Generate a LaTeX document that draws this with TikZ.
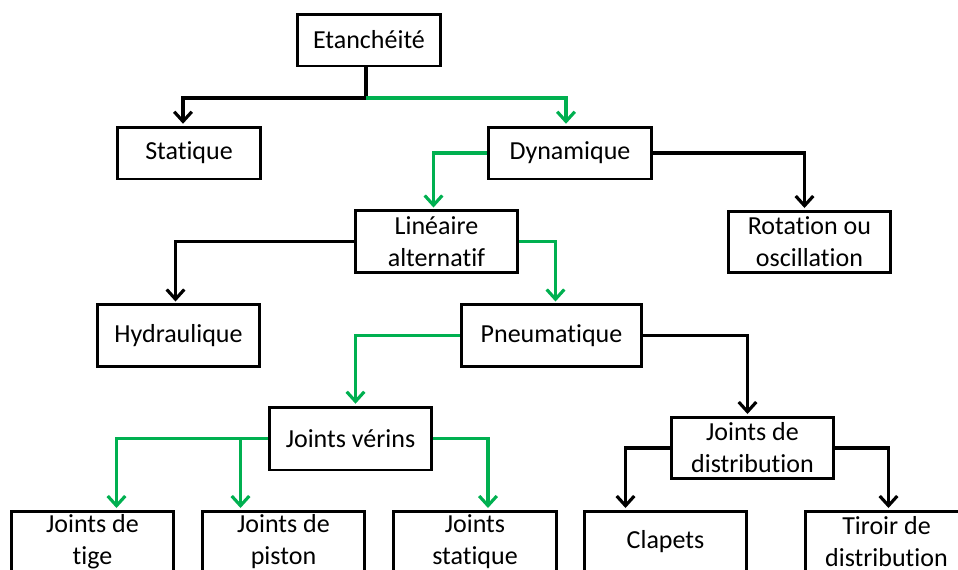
\documentclass[tikz,border=0pt]{standalone}
\usepackage{fontspec}
\setmainfont{Carlito}[Ligatures=NoCommon]
\usetikzlibrary{arrows.meta,calc}
\definecolor{vert}{RGB}{0,176,80}
\begin{document}
\begin{tikzpicture}[x=0.02cm,y=-0.02cm,
  box/.style={draw, line width=1.7pt, align=center, inner sep=0pt,
    minimum width=3.26cm, minimum height=1.23cm,
    font=\fontsize{14.8}{18.2}\selectfont},
  lk/.style={line width=1.8pt, -{Straight Barb[length=5.5pt,width=10pt]}, shorten >=1pt},
  lkg/.style={lk, draw=vert}]
\useasboundingbox (0,0) rectangle (958,569);
\clip (0,0) rectangle (958,569);
\node[box, minimum width=2.88cm, minimum height=1.04cm] (etan) at (369,40) {Etanchéité};
\node[box, minimum width=2.88cm, minimum height=1.04cm] (stat) at (189,153) {Statique};
\node[box, minimum height=1.04cm] (dyn) at (570,153) {Dynamique};
\node[box] (lin) at (436.5,241.5) {Linéaire\\alternatif};
\node[box] (rot) at (809.5,242) {Rotation ou\\oscillation};
\node[box] (hyd) at (178.5,335.5) {Hydraulique};
\node[box, minimum width=3.62cm] (pneu) at (551.5,335.5) {Pneumatique};
\node[box, minimum height=1.26cm] (jver) at (350.5,438.5) {Joints vérins};
\node[box] (jdist) at (752.5,448) {Joints de\\distribution};
\node[box] (tige) at (92.5,542) {Joints de\\tige};
\node[box] (pist) at (283.5,542) {Joints de\\piston};
\node[box] (jstat) at (475,542) {Joints\\statique};
\node[box] (clap) at (665.5,542) {Clapets};
\node[box] (tir) at (886.5,542) {Tiroir de\\distribution};
% liaisons
\coordinate (j0) at (366,98);
\draw[lk] (etan.south -| j0) -- (j0) -| ($(stat.north)+(-6,0)$);
\draw[lkg] (j0) -| ($(dyn.north)+(-4,0)$);
\draw[lkg] (dyn.west) -| ($(lin.north)+(-3,0)$);
\draw[lk] (dyn.east) -| ($(rot.north)+(-5,0)$);
\draw[lk] (lin.west) -| ($(hyd.north)+(-3,0)$);
\draw[lkg] (lin.east) -| ($(pneu.north)+(4,0)$);
\draw[lkg] (pneu.west) -| ($(jver.north)+(5,0)$);
\draw[lk] (pneu.east) -| ($(jdist.north)+(-5,0)$);
\draw[lkg] (jver.west) -| ($(tige.north)+(24,0)$);
\draw[lkg] (jver.west) -| ($(pist.north)+(-43,0)$);
\draw[lkg] (jver.east) -| ($(jstat.north)+(13,0)$);
\draw[lk] (jdist.west) -| ($(clap.north)+(-40,0)$);
\draw[lk] (jdist.east) -| ($(tir.north)+(2,0)$);
\end{tikzpicture}
\end{document}
